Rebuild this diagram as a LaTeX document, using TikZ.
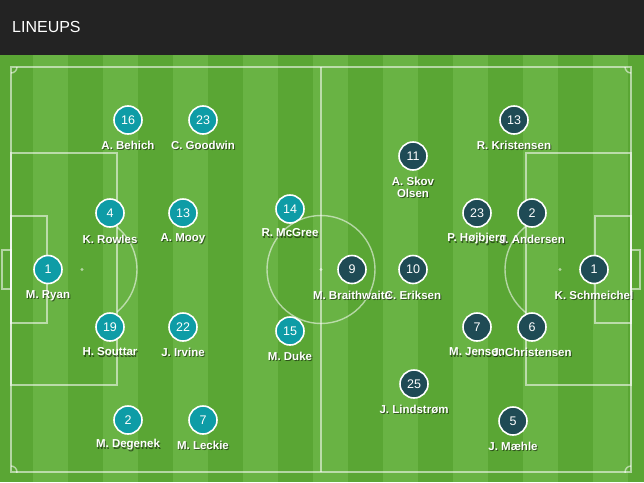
\documentclass[tikz,border=0pt]{standalone}
\usepackage{fontspec}
\setmainfont{Liberation Sans}
\definecolor{hdr}{HTML}{232323}
\definecolor{gdark}{RGB}{90,166,52}
\definecolor{glight}{RGB}{105,179,68}
\definecolor{teamA}{HTML}{0E9CA6}
\definecolor{teamB}{HTML}{1F4B55}
\tikzset{
  pline/.style={draw=white, draw opacity=0.55, line width=1.4pt},
  disc/.style={circle, draw=white, line width=1.6pt, minimum size=28pt, inner sep=0pt, text=white, font=\fontsize{12.5}{13}\selectfont},
  teama/.style={disc, fill=teamA},
  teamb/.style={disc, fill=teamB},
  pname/.style={text=white, align=center, inner sep=0pt, font=\fontsize{11.5}{12}\selectfont\bfseries},
  pshadow/.style={pname, text=black, text opacity=0.5},
}
\newcommand{\plr}[7]{% id, x, y, team, num, label, label dy
  \node[#4] (#1) at (#2,#3) {#5};
  \node[pshadow] (#1s) at (#2+1,#3+#7+1.2) {#6};
  \node[pname] (#1n) at (#2,#3+#7) {#6};
}
\begin{document}
\begin{tikzpicture}[x=1pt,y=-1pt]
\useasboundingbox (0,0) rectangle (644,482);
% header
\fill[hdr] (0,0) rectangle (644,55);
\node[anchor=west, text=white, inner sep=0pt, font=\fontsize{16}{18}\selectfont] (title) at (12,27) {LINEUPS};
% pitch
\fill[gdark] (0,55) rectangle (644,482);
\foreach \i in {0,...,8} \fill[glight] ({33+70*\i},55) rectangle ({68+70*\i},482);
\draw[pline] (11,67) rectangle (631,472);
\draw[pline] (321,67) -- (321,472);
\draw[pline] (321,269.5) circle[radius=54pt];
\fill[white, opacity=0.55] (321,269.5) circle[radius=1.6pt];
% left
\draw[pline] (11,153) rectangle (117,385);
\draw[pline] (11,216) rectangle (47,323);
\draw[pline] (2,250) rectangle (11,289);
\fill[white, opacity=0.55] (82,269.5) circle[radius=1.6pt];
\begin{scope}
  \clip (117,55) rectangle (220,482);
  \draw[pline] (82,269.5) circle[radius=55pt];
\end{scope}
% right
\draw[pline] (526,153) rectangle (631,385);
\draw[pline] (595,216) rectangle (631,323);
\draw[pline] (631,250) rectangle (640,289);
\fill[white, opacity=0.55] (560,269.5) circle[radius=1.6pt];
\begin{scope}
  \clip (420,55) rectangle (526,482);
  \draw[pline] (560,269.5) circle[radius=55pt];
\end{scope}
% corners
\begin{scope}
  \clip (11,67) rectangle (631,472);
  \draw[pline] (11,67) circle[radius=6pt];
  \draw[pline] (631,67) circle[radius=6pt];
  \draw[pline] (11,472) circle[radius=6pt];
  \draw[pline] (631,472) circle[radius=6pt];
\end{scope}
% team A
\plr{a1}{48}{269.5}{teama}{1}{M. Ryan}{26}
\plr{a16}{128}{120}{teama}{16}{A. Behich}{25}
\plr{a23}{203}{120}{teama}{23}{C. Goodwin}{25}
\plr{a4}{110}{213}{teama}{4}{K. Rowles}{26}
\plr{a13}{183}{213}{teama}{13}{A. Mooy}{26}
\plr{a19}{110}{327}{teama}{19}{H. Souttar}{25}
\plr{a22}{183}{327}{teama}{22}{J. Irvine}{25}
\plr{a2}{128}{420}{teama}{2}{M. Degenek}{25}
\plr{a7}{203}{420}{teama}{7}{M. Leckie}{25}
\plr{a14}{290}{209}{teama}{14}{R. McGree}{24}
\plr{a15}{290}{331}{teama}{15}{M. Duke}{25}
% team B
\plr{b1}{594}{269.5}{teamb}{1}{K. Schmeichel}{26}
\plr{b9}{352}{269.5}{teamb}{9}{M. Braithwaite}{26}
\plr{b10}{413}{269.5}{teamb}{10}{C. Eriksen}{26}
\plr{b11}{413}{156}{teamb}{11}{A. Skov\\Olsen}{31}
\plr{b13}{514}{120}{teamb}{13}{R. Kristensen}{25}
\plr{b23}{477}{213}{teamb}{23}{P. Højbjerg}{26}
\plr{b2}{532}{213}{teamb}{2}{J. Andersen}{26}
\plr{b7}{477}{327}{teamb}{7}{M. Jensen}{25}
\plr{b6}{532}{327}{teamb}{6}{J. Christensen}{25}
\plr{b25}{414}{384}{teamb}{25}{J. Lindstrøm}{25}
\plr{b5}{513}{421}{teamb}{5}{J. Mæhle}{25}
\end{tikzpicture}
\end{document}
